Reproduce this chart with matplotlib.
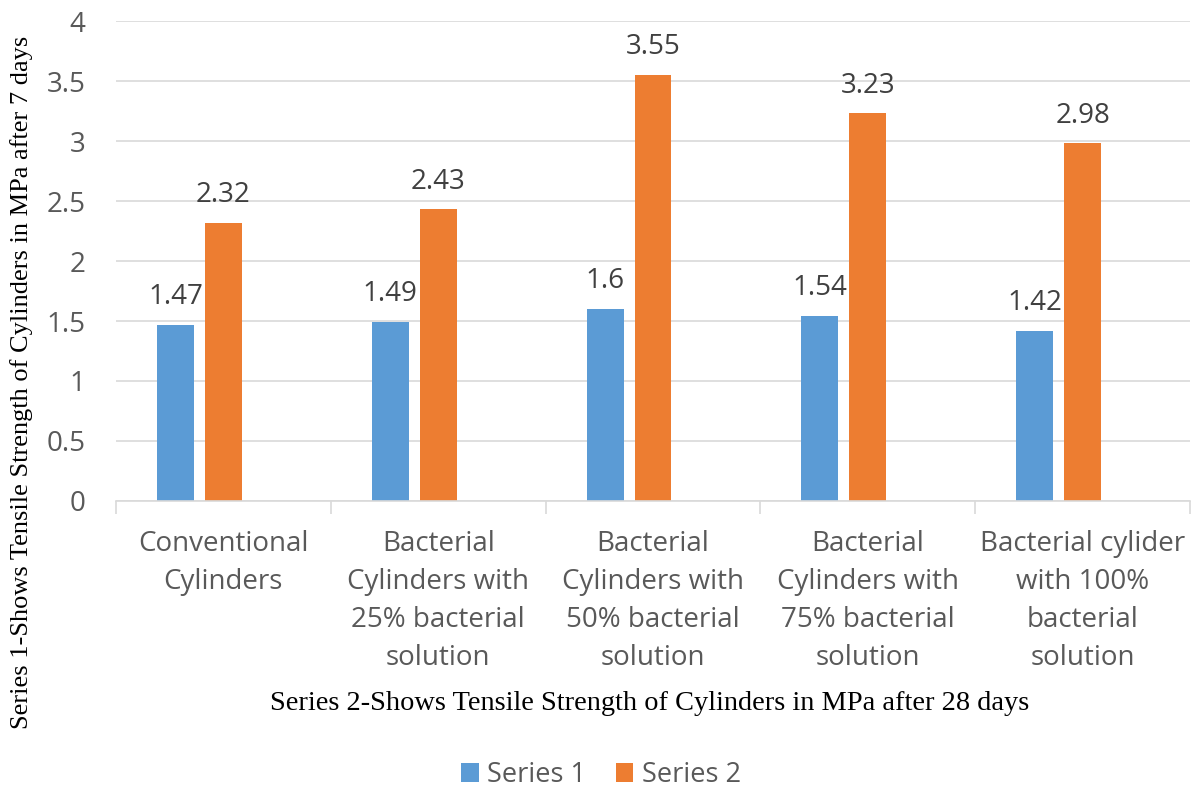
import matplotlib.pyplot as plt
import numpy as np

categories = ['Conventional\nCylinders',
              'Bacterial\nCylinders with\n25% bacterial\nsolution',
              'Bacterial\nCylinders with\n50% bacterial\nsolution',
              'Bacterial\nCylinders with\n75% bacterial\nsolution',
              'Bacterial cylider\nwith 100%\nbacterial\nsolution']
series1 = [1.47, 1.49, 1.6, 1.54, 1.42]
series2 = [2.32, 2.43, 3.55, 3.23, 2.98]

blue = '#5B9BD5'
orange = '#ED7D31'
grey = '#595959'
plt.rcParams['font.family'] = ['Open Sans', 'DejaVu Sans']
fs = 20

fig = plt.figure(figsize=(11.95, 7.91), dpi=100)
ax = fig.add_axes([116/1195, 1 - 501/791, 1074/1195, 480/791])

x = np.arange(len(categories))
w = 0.172
b1 = ax.bar(x - 0.223, series1, w, color=blue, label='Series 1')
b2 = ax.bar(x, series2, w, color=orange, label='Series 2')
for bars, vals in ((b1, series1), (b2, series2)):
    for r, v in zip(bars, vals):
        ax.annotate(f'{v:g}', (r.get_x() + r.get_width()/2, v), xytext=(0, 10),
                    textcoords='offset points', ha='center', va='bottom',
                    fontsize=fs, color='#404040')

ax.set_xlim(-0.5, len(categories) - 0.5)
ax.set_ylim(0, 4)
ax.set_yticks(np.arange(0, 4.01, 0.5))
ax.set_yticklabels(['0', '0.5', '1', '1.5', '2', '2.5', '3', '3.5', '4'])
ax.yaxis.grid(True, color='#D9D9D9', linewidth=1.2)
ax.set_axisbelow(True)
for s in ('top', 'right', 'left'):
    ax.spines[s].set_visible(False)
ax.spines['bottom'].set_color('#D9D9D9')
ax.spines['bottom'].set_linewidth(1.2)
ax.tick_params(axis='y', length=0, labelsize=fs, labelcolor=grey, pad=22)
ax.set_xticks(x)
ax.set_xticklabels(categories, linespacing=1.48)
ax.tick_params(axis='x', length=0, labelsize=fs, labelcolor=grey, pad=21)
ax.set_xticks(np.arange(-0.5, len(categories)), minor=True)
ax.tick_params(axis='x', which='minor', length=9, color='#D9D9D9', width=1.2)

fig.text(22/1195, 1 - 382/791,
         'Series 1-Shows Tensile Strength of Cylinders in MPa after 7 days',
         family='Liberation Serif', fontsize=19, rotation=90, ha='center', va='center')
fig.text(650/1195, 1 - 703/791,
         'Series 2-Shows Tensile Strength of Cylinders in MPa after 28 days',
         family='Liberation Serif', fontsize=20.4, ha='center', va='center')

fig.legend(handles=[b1, b2], loc='center', bbox_to_anchor=(601/1195, 1 - 775/791),
           ncol=2, frameon=False, fontsize=19.5, labelcolor=grey,
           handlelength=0.65, handleheight=0.65, columnspacing=1.1, handletextpad=0.3)

fig.savefig('out.png', dpi=100)
